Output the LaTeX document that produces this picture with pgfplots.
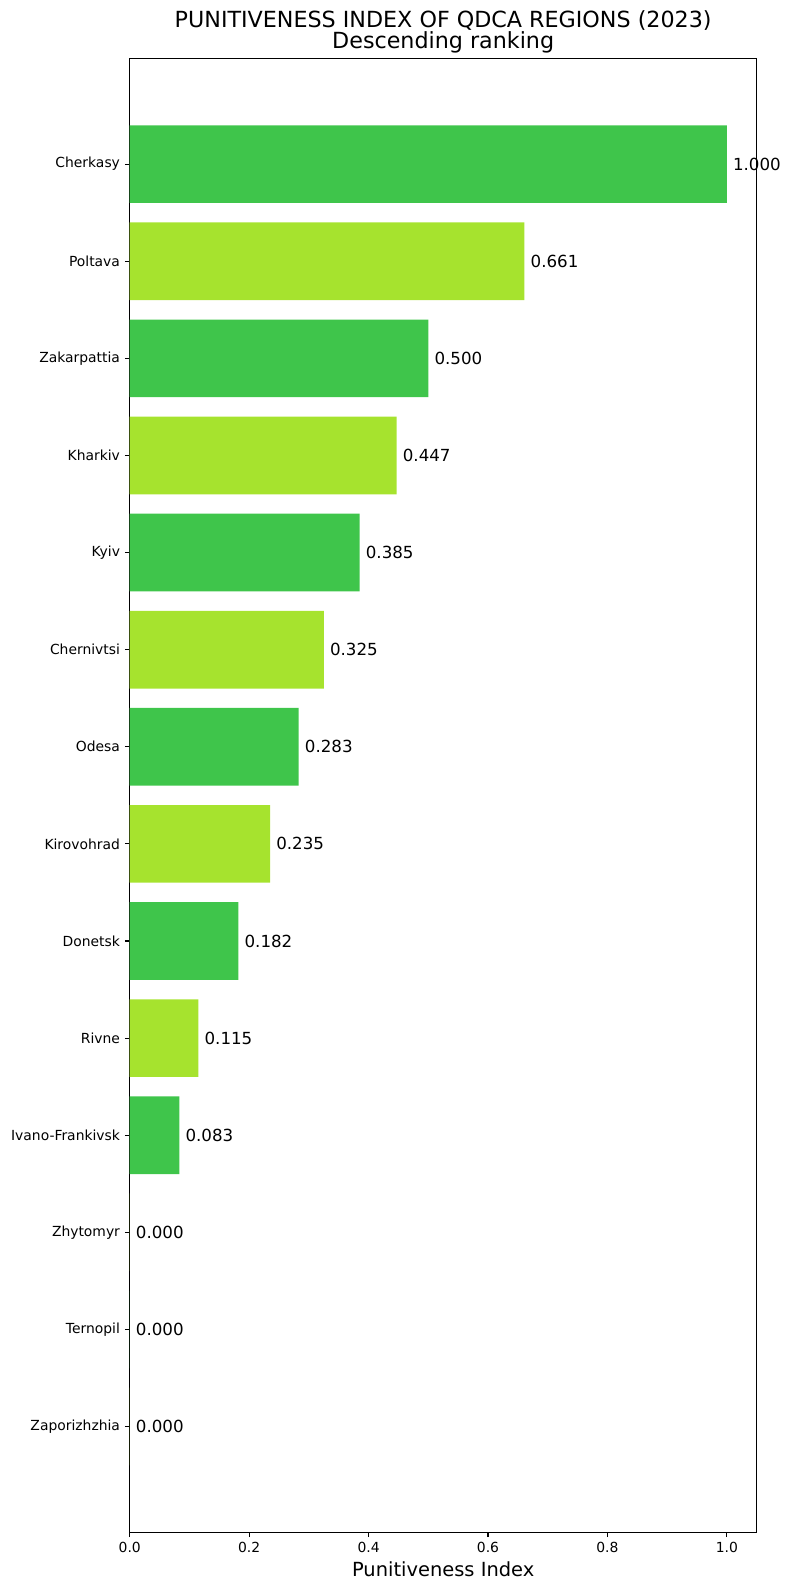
\documentclass[border=0pt]{standalone}
\usepackage{fontspec}
\setmainfont{DejaVu Sans}
\usepackage{pgfplots}
\pgfplotsset{compat=1.18}
\definecolor{bargreen}{RGB}{63,197,75}
\definecolor{baryellow}{RGB}{166,227,46}
\begin{document}
\begin{tikzpicture}
\useasboundingbox (-93.4pt,-41.5pt) rectangle (474.7pt,1103.3pt);
\begin{axis}[
  name=ax,
  anchor=south west,
  at={(0pt,0pt)},
  scale only axis,
  width=451.4pt, height=1061.3pt,
  xmin=0, xmax=1.05,
  ymin=-1.09, ymax=14.09,
  xbar, bar shift=0pt, bar width=0.8,
  clip=false,
  axis line style={line width=0.8pt},
  every tick/.style={line width=0.8pt, black},
  tick align=outside, tick pos=left,
  major tick length=3.5pt,
  xtick={0,0.2,0.4,0.6,0.8,1.0},
  xticklabel style={font=\fontsize{10}{12}\selectfont, /pgf/number format/.cd, fixed, fixed zerofill, precision=1, assume math mode=true},
  ytick={0,1,...,13},
  yticklabels={Zaporizhzhia,Ternopil,Zhytomyr,Ivano-Frankivsk,Rivne,Donetsk,Kirovohrad,Odesa,Chernivtsi,Kyiv,Kharkiv,Zakarpattia,Poltava,Cherkasy},
  yticklabel style={font=\fontsize{10}{12}\selectfont},
  xlabel={Punitiveness Index},
  xlabel style={at={(axis description cs:0.5,0)}, anchor=base, yshift=-31.5pt, font=\fontsize{14}{17}\selectfont},
  point meta=x,
  nodes near coords={\pgfmathprintnumber[fixed,fixed zerofill,precision=3,assume math mode=true]{\pgfplotspointmeta}},
  every node near coord/.append style={anchor=west, inner sep=0pt, xshift=4.3pt, font=\fontsize{12}{14}\selectfont, black},
]
\addplot[fill=bargreen, draw=none] coordinates {
  (1.000,13) (0.500,11) (0.385,9) (0.283,7) (0.182,5) (0.083,3) (0.000,1)
};
\addplot[fill=baryellow, draw=none] coordinates {
  (0.661,12) (0.447,10) (0.325,8) (0.235,6) (0.115,4) (0.000,2) (0.000,0)
};
\end{axis}
\node[anchor=base, font=\fontsize{16}{19}\selectfont] at ([yshift=22.3pt]ax.north) {PUNITIVENESS INDEX OF QDCA REGIONS (2023)};
\node[anchor=base, font=\fontsize{16}{19}\selectfont] at ([yshift=7.2pt]ax.north) {Descending ranking};
\end{tikzpicture}
\end{document}
